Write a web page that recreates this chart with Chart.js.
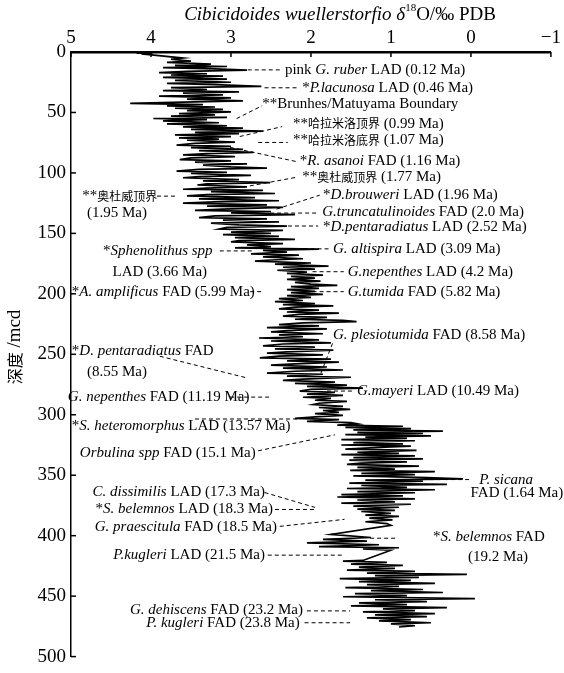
<!DOCTYPE html>
<html><head><meta charset="utf-8">
<script src="https://cdn.jsdelivr.net/npm/chart.js@4"></script>
<style>html,body{margin:0;padding:0;background:#fff}#wrap{width:564px;height:673px;position:relative}</style>
</head><body><div id="wrap"><canvas id="c"></canvas></div>
<script>
// ---------- data ----------
const xTicks = [5, 4, 3, 2, 1, 0, -1];
const yTicks = [0, 50, 100, 150, 200, 250, 300, 350, 400, 450, 500];

// [depth (mcd), delta18O (permil PDB)]
const record = [
[1.0,4.18],[0.8,3.98],[1.6,4.12],[3,3.9],[5,3.6],[6,3.75],[7.5,3.5],[8.5,3.8],[10,3.25],[11,3.7],
[12,3.05],[13,3.85],[14,3.2],[15,2.8],[16,3.55],[17,3.9],[18,3.3],[19,3.75],
[20,3.1],[21,3.85],[22.5,3.05],[23.5,3.7],[25,3.0],[26,3.8],[27,3.2],[28.5,2.62],[29.5,3.75],[31,3.3],
[32,3.85],[33,2.9],[34,3.6],[35.5,3.1],[36.5,3.9],[38,3.0],[39,3.55],[40.5,2.85],[41.5,3.6],[42.5,4.26],
[43.5,3.35],[44.5,3.8],[45.5,3.2],
[46.5,3.7],[47.5,3.1],[48.5,3.55],[49.5,3.0],[51,3.65],[52,3.2],[53,3.75],[54,3.05],[55,3.97],[56,3.3],
[57,3.85],[58.5,3.15],[59.5,3.8],[61,3.05],[62,3.6],[63,2.85],[64,3.5],[65.5,2.6],[66.5,3.45],[67.5,2.9],
[68.5,3.7],[70,3.0],[71,3.65],[72,3.15],
[73,3.55],[74.5,2.95],[75.5,3.45],[77,3.68],[78,3.0],[79,3.5],[80.5,2.85],[81.5,3.4],[83,2.72],[84,3.3],
[85,3.6],[86.5,2.95],[87.5,3.5],[89,3.64],[90,3.0],[91,3.45],[92.5,2.8],[93.5,3.35],[95,3.0],[96,2.55],
[97,3.4],[98.5,3.68],[99.5,3.05],[100.5,3.5],[102,2.75],[103,3.4],[104,3.6],[105.5,2.9],[106.5,3.35],[108,2.51],
[109,3.3],[110,3.42],[111.5,2.8],[112.5,3.3],
[113.5,3.6],[114.5,2.6],[115.5,3.25],[117,2.45],[118,3.3],[119,3.55],[120.5,2.7],[121.5,3.4],[123,2.4],[124,3.2],
[125,3.6],[126.5,2.55],[127.5,3.3],[128.5,2.35],[130,3.1],[131,3.45],[132,2.5],[133,3.0],[134.5,2.2],[135.5,3.2],
[137,3.4],[138,2.55],[139,3.1],[140.5,2.4],[141.5,3.25],[143,2.9],[144,2.3],[145,3.05],[146.5,3.15],[147.5,2.35],
[149,3.0],[150,2.5],[151,3.1],[152.5,2.4],[153.5,2.95],[155,2.2],[156,2.9],[157,3.0],[158.5,2.35],[159.5,2.8],
[161,2.5],
[162,2.95],[163,1.9],[164,2.6],[165.5,2.3],[167,2.75],[168,2.15],[169.5,2.6],[171,2.1],[172,2.5],[173,2.7],
[174.5,2.0],[175.5,2.45],[177,1.78],[178,2.35],[179.5,1.95],[180.5,2.42],[182,2.05],[183,2.3],[184.5,1.85],[185.5,2.25],
[187,1.95],[188,2.3],[189.5,1.88],[190.5,2.2],[192,2.0],[193,1.67],[194,2.25],[195.5,1.9],[196.5,2.3],[198,1.95],
[199,2.25],[200.5,1.85],[201.5,2.3],[203,2.0],[204,2.4],
[205.5,2.1],[206.5,2.45],[208,1.95],[209,2.35],[210,1.72],[211,2.2],[212.5,2.4],[213.5,1.9],[215,2.3],[216,1.65],
[217,2.15],[218.5,2.35],[219.5,1.8],[221,2.2],[222,1.6],[223,1.43],[224,2.1],[225.5,2.4],[226.5,1.9],[228,2.55],
[229,1.8],[230.5,2.3],[231.5,2.5],[233,1.85],[234,2.4],[235.5,2.1],[236.5,2.65],[238,1.9],[239,2.5],[240.5,1.75],
[241.5,2.35],[243,2.6],[244,1.95],[245.5,2.45],[246.5,1.72],[248,2.3],[249,2.55],[250.5,1.85],[251.5,2.4],[253,2.64],
[254,1.75],[255.5,2.3],[256.5,1.65],[258,2.2],[259,2.5],[260.5,1.8],[261.5,2.35],[263,1.6],[264,2.2],[265.5,2.55],
[266.5,1.85],[268,2.3],[269,1.5],[270.5,2.1],[271.5,2.35],[273,1.7],[274,2.2],[275.5,1.55],[276.5,2.05],[278,1.35],
[279,2.0],[280.5,2.14],[281.5,1.7],[283,2.05],[284,1.6],[285.5,2.1],[286.5,1.75],[288,1.95],[289,1.55],[290.5,1.9],
[291.5,1.97],[293,1.6],[294,1.9],[295.5,1.51],[296.5,1.85],[298,1.65],[299,1.95],[300.5,1.6],[301.5,1.9],
[303,2.2],[304,1.65],[305.5,2.05],[306.5,1.5],[307.5,1.42],[308.5,1.67],[309.5,0.85],[310.5,1.57],[311.5,0.75],[312.5,1.47],
[313.5,0.35],[314.5,1.42],[315.5,0.6],[316.5,1.57],[317.5,0.5],[318.5,1.32],[319.5,0.8],[320.5,1.62],[321.5,0.7],[323,1.47],
[324,0.85],[325,1.62],[326,0.75],[327.5,1.32],[328.5,1.57],[329.5,0.68],[331,1.42],[332,0.9],[333,1.62],[334,0.7],
[335.5,1.47],[336.5,0.6],[337.5,1.52],[339,0.8],[340,1.37],[341,1.55],[342.5,0.65],[343.5,1.42],[345,0.95],[346,1.51],
[347,0.45],[348.5,1.37],[349.5,0.7],[350.5,1.47],[352,0.55],[353,0.1],[354,1.32],[355,0.6],[356.5,1.52],[357.5,0.3],
[358.5,1.37],[360,0.8],[361,1.55],[362,0.45],[363.5,1.42],[364.5,0.7],[366,1.62],[367,0.85],[368,1.67],[369.5,0.7],
[370.5,1.42],[372,0.95],[373,1.62],[374,0.75],[375.5,1.47],[376.5,0.9],[378,1.42],[379,0.95],[380,1.37],[381.5,1.0],
[383,1.32],[384,0.9],[385.5,1.27],[387,0.98],[388.5,1.32],[390,1.05],
[391.5,1.0],[399,1.75],[401.5,1.25],[403,1.85],[404.5,1.3],[406,2.05],[407.5,1.15],[409,1.9],[410,0.9],[411,1.35],
[412,1.0],[420.5,1.35],
[421,1.6],[422,1.05],[423.5,1.5],[424.5,0.85],[426,1.4],[427,0.95],[428.5,1.55],[429.5,0.7],[431,1.3],[432,0.05],
[433,1.2],[434.5,0.65],[435.5,1.64],[437,0.75],[438,1.4],[439.5,0.45],[440.5,1.3],[442,0.9],[443,1.57],[444.5,0.6],
[445.5,1.25],[447,0.35],[448,1.45],[449.5,0.8],[450.5,1.6],[452,-0.05],[453,1.2],[454.5,0.55],[455.5,1.4],[457,0.8],
[458,1.5],[459.5,0.3],[460.5,1.1],[462,0.7],[463,1.35],[464.5,0.45],[465.5,1.2],[467,0.55],[468,1.3],[469.5,0.75],
[470.5,1.15],[472,0.5],[473,1.0],[474.5,0.7],[475.5,0.9]
];

// dashed leader lines: [depth1, delta1, depth2, delta2]
const leaderLines = [
[14.8,2.79,14.8,2.36],[29.6,2.58,29.6,2.15],[55.1,2.93,44.4,2.61],[69.9,2.89,61.7,2.36],
[74.8,2.66,74.8,2.29],[78.9,3.01,90.5,2.19],[111.8,2.85,103.6,2.18],[119.2,3.925,119.2,3.69],
[129.9,2.43,118.4,1.89],[133.2,2.51,133.2,1.91],[143.9,2.55,143.9,1.91],[162.8,2.18,162.8,1.76],
[164.5,3.14,164.5,2.73],[181.7,1.98,181.7,1.59],[198.2,2.76,198.2,2.60],[198.2,1.98,198.2,1.59],
[251.6,3.89,269.7,2.79],[241.0,1.73,268.1,1.89],[280.4,1.80,280.4,1.48],[285.4,3.01,285.4,2.51],
[303.5,3.45,303.5,2.14],[329.8,2.66,316.6,1.70],[364.3,2.58,376.6,1.95],[378.3,2.45,378.3,1.95],
[392.3,2.39,386.5,1.58],[416.1,2.54,416.1,1.60],[353.6,0.51,353.6,-0.01],[402.1,1.26,402.1,0.93],
[462.2,2.05,462.2,1.51],[472.0,2.08,472.0,1.51]
];

// event labels (text: _italic_), anchor in data units, alignment
const labelText = [
"pink _G. ruber_ LAD (0.12 Ma)","*_P.lacunosa_ LAD (0.46 Ma)","**Brunhes/Matuyama Boundary",
"**哈拉米洛顶界 (0.99 Ma)","**哈拉米洛底界 (1.07 Ma)","*_R. asanoi_ FAD (1.16 Ma)","**奥杜威顶界 (1.77 Ma)",
"**奥杜威顶界","(1.95 Ma)","*_D.brouweri_ LAD (1.96 Ma)","_G.truncatulinoides_ FAD (2.0 Ma)",
"*_D.pentaradiatus_ LAD (2.52 Ma)","_G. altispira_ LAD (3.09 Ma)","*_Sphenolithus spp_","LAD (3.66 Ma)",
"_G.nepenthes_ LAD (4.2 Ma)","*_A. amplificus_ FAD (5.99 Ma)","_G.tumida_ FAD (5.82 Ma)",
"*_D. pentaradiatus_ FAD","(8.55 Ma)","_G. plesiotumida_ FAD (8.58 Ma)","_G.mayeri_ LAD (10.49 Ma)",
"_G. nepenthes_ FAD (11.19 Ma)","*_S. heteromorphus_ LAD (13.57 Ma)","_Orbulina spp_ FAD (15.1 Ma)",
"_C. dissimilis_ LAD (17.3 Ma)","*_S. belemnos_ LAD (18.3 Ma)","_G. praescitula_ FAD (18.5 Ma)",
"_P.kugleri_ LAD (21.5 Ma)","_P. sicana_","FAD (1.64 Ma)","*_S. belemnos_ FAD","(19.2 Ma)",
"_G. dehiscens_ FAD (23.2 Ma)","_P. kugleri_ FAD (23.8 Ma)"
];
const labelDelta = [2.325,2.11,2.61,2.225,2.225,2.14,2.11,4.86,4.425,1.85,1.86,1.85,1.725,4.6,3.89,
1.54,4.99,1.54,4.99,4.425,1.725,1.425,5.04,4.99,4.89,2.575,2.475,2.425,2.575,-0.44,-0.575,0.475,-0.34,2.10,2.14];
const labelDepth = [14.8,29.6,42.8,59.2,73.2,90.5,103.6,119.2,133.2,118.4,132.4,144.7,162.8,164.5,181.7,
181.7,198.2,198.2,247.5,264.8,234.4,280.4,285.4,309.2,331.4,364.3,378.3,393.1,416.1,353.6,365.1,401.3,417.8,461.3,472.0];
const labelAlign = ['l','l','l','l','l','l','l','l','c','l','l','l','l','l','c',
'l','l','l','l','c','l','l','l','l','l','r','r','r','r','c','c','l','c','r','r'];

// ---------- drawing ----------
const SERIF = '"Liberation Serif","Times New Roman",serif';
const CJK = '"Noto Sans CJK SC",sans-serif';

function runsOf(str){
  const out=[];
  str.split('_').forEach((seg,i)=>{
    const italic = i%2===1;
    const parts = seg.match(/[\u3400-\u9fff]+|[^\u3400-\u9fff]+/g)||[];
    parts.forEach(p=>out.push({t:p, italic, cjk:/[\u3400-\u9fff]/.test(p)}));
  });
  return out;
}
function fontFor(r,size){
  if(r.sup) return `${Math.round(size*0.6)}px ${SERIF}`;
  return r.cjk ? `${Math.round(size*0.82)}px ${CJK}` : `${r.italic?'italic ':''}${size}px ${SERIF}`;
}
function drawRuns(ctx, runs, x, y, size, align){
  let w=0;
  runs.forEach(r=>{ctx.font=fontFor(r,size); r.w=ctx.measureText(r.t).width; w+=r.w;});
  let sx = align==='c'? x-w/2 : align==='r'? x-w : x;
  ctx.textBaseline='middle'; ctx.textAlign='left'; ctx.fillStyle='#000';
  runs.forEach(r=>{ctx.font=fontFor(r,size); ctx.fillText(r.t, sx, r.sup? y-size*0.35 : y); sx+=r.w;});
}

const decorPlugin = {
  id:'decor',
  afterDraw(chart){
    const ctx=chart.ctx, xs=chart.scales.x, ys=chart.scales.y, a=chart.chartArea;
    ctx.save();
    ctx.strokeStyle='#000'; ctx.lineWidth=1.5;
    xTicks.forEach(v=>{const px=xs.getPixelForValue(v); ctx.beginPath(); ctx.moveTo(px,a.top); ctx.lineTo(px,a.top+5); ctx.stroke();});
    yTicks.forEach(v=>{const py=ys.getPixelForValue(v); ctx.beginPath(); ctx.moveTo(a.left,py); ctx.lineTo(a.left+5,py); ctx.stroke();});
    drawRuns(ctx,[{t:'Cibicidoides wuellerstorfio ',italic:true},{t:'δ',italic:true},{t:'18',sup:true},{t:'O/‰ PDB'}],
      340, 15, 19, 'c');
    ctx.save(); ctx.translate(15,347); ctx.rotate(-Math.PI/2);
    drawRuns(ctx,[{t:'深度',cjk:true},{t:' /mcd'}],0,0,19,'c');
    ctx.restore();
    labelText.forEach((t,i)=>{
      const px=xs.getPixelForValue(labelDelta[i]), py=ys.getPixelForValue(labelDepth[i]);
      drawRuns(ctx, runsOf(t), px, py, 15, labelAlign[i]);
    });
    ctx.restore();
  }
};

const datasets=[{
  data: record.map(p=>({x:p[1], y:p[0]})),
  showLine:true, borderColor:'#000', borderWidth:1.7, pointRadius:0, tension:0, fill:false
}];
leaderLines.forEach(l=>datasets.push({
  data:[{x:l[1],y:l[0]},{x:l[3],y:l[2]}],
  showLine:true, borderColor:'#000', borderWidth:1, borderDash:[4,3], pointRadius:0
}));

new Chart(document.getElementById('c'),{
  type:'scatter',
  data:{datasets},
  options:{
    responsive:true, maintainAspectRatio:false, animation:false,
    layout:{padding:{left:0,right:13,top:0,bottom:13}},
    plugins:{legend:{display:false},tooltip:{enabled:false}},
    scales:{
      x:{type:'linear',position:'top',min:-1,max:5,reverse:true,
        afterFit(s){s.height=52;},
        afterBuildTicks(s){s.ticks=xTicks.map(v=>({value:v}));},
        ticks:{font:{family:SERIF,size:19},color:'#000',padding:3,maxRotation:0,autoSkip:false,
          callback:v=> v<0 ? '\u2212'+Math.abs(v) : String(v)},
        grid:{display:false,drawTicks:false},
        border:{display:true,color:'#000',width:2.5}},
      y:{type:'linear',min:0,max:500,reverse:true,
        afterFit(s){s.width=71;},
        afterBuildTicks(s){s.ticks=yTicks.map(v=>({value:v}));},
        ticks:{font:{family:SERIF,size:19},color:'#000',padding:5,autoSkip:false},
        grid:{display:false,drawTicks:false},
        border:{display:true,color:'#000',width:1.5}}
    }
  },
  plugins:[decorPlugin]
});
</script></body></html>
